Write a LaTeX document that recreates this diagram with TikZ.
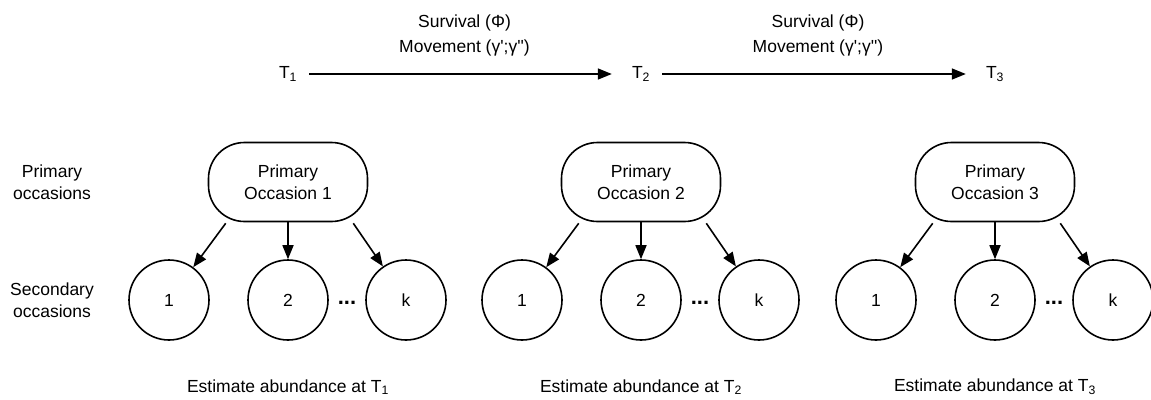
\documentclass[tikz,border=0pt]{standalone}
\usepackage{fontspec}
\setmainfont{Liberation Sans}[Ligatures=TeXOff]
\usetikzlibrary{arrows.meta}

\begin{document}
\begin{tikzpicture}[x=1pt,y=-1pt,
    every node/.style={font=\fontsize{17.5}{22}\selectfont},
    primbox/.style={draw,line width=1.6pt,rounded corners=36pt,minimum width=159pt,minimum height=79pt,align=center,inner sep=0pt},
    secbox/.style={draw,circle,line width=1.6pt,minimum size=80pt,inner sep=0pt},
    tnode/.style={inner xsep=8pt},
    arr/.style={line width=1.6pt,-{Triangle[length=14pt,width=11pt]}}]
  \def\primy{182};
  \def\secy{300};
  \useasboundingbox (0,0) rectangle (1151,399);

  \node[align=center] (lblprim) at (52,\primy) {Primary\\occasions};
  \node[align=center] (lblsec) at (52,\secy) {Secondary\\occasions};

  \foreach \i/\x in {1/288,2/641,3/995} {  %for each primary occasion
    \node[tnode] (t\i) at (\x,74) {T\textsubscript{\i}};
    \node[primbox] (po\i) at (\x,\primy) {Primary\\Occasion \i};
    \node[secbox] (sec\i-1) at (\x-119,\secy) {1};
    \node[secbox] (sec\i-2) at (\x,\secy) {2};
    \node[secbox] (sec\i-k) at (\x+118,\secy) {k};
    \node[font=\fontsize{22}{22}\bfseries] (dots\i) at (\x+59,\secy+3) {...};
    \node (est\i) at (\x,387) {Estimate abundance at T\textsubscript{\i}};
    \draw[arr] ([xshift=18pt,yshift=-1pt]po\i.south west) -- (sec\i-1);
    \draw[arr] (po\i.south) -- (sec\i-2);
    \draw[arr] ([xshift=-15pt,yshift=-1pt]po\i.south east) -- (sec\i-k);
  }

  \foreach \a/\b in {1/2,2/3} {  %survival and movement between occasions
    \draw[arr,shorten <=4pt,shorten >=12pt] (t\a) -- (t\b)
      node[midway,above=14pt,align=center] (move\a) {Survival (Φ)\\[3pt]Movement (γ';γ'')};
  }
\end{tikzpicture}
\end{document}
